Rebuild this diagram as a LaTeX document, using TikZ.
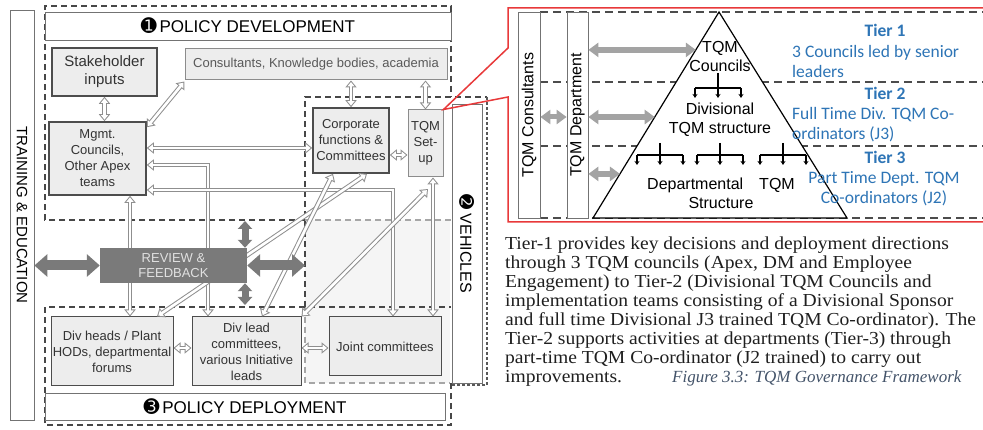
\documentclass[tikz,border=0pt]{standalone}
\usepackage{fontspec}
\setmainfont{Liberation Serif}
\newfontfamily\arialf{Liberation Sans}
\newfontfamily\calibf{Carlito}
\newfontfamily\dingf{DejaVu Sans}
\newfontfamily\parafont[FakeStretch=1.07]{Liberation Serif}
\usetikzlibrary{arrows.meta,calc}

\definecolor{boxfill}{HTML}{EDEDED}
\definecolor{boxline}{HTML}{4D4D4D}
\definecolor{hgray}{HTML}{8F8F8F}
\definecolor{rgray}{HTML}{7A7A7A}
\definecolor{tgray}{HTML}{A3A3A3}
\definecolor{tierblue}{HTML}{2E75B6}
\definecolor{capblue}{HTML}{44546A}
\definecolor{callred}{HTML}{E8393A}

\tikzset{
  govbox/.style={draw=boxline, line width=1.6pt, fill=boxfill, align=center, inner sep=1pt,
    font=\arialf\fontsize{13}{16}\selectfont, text=black!80},
  lgovbox/.style={govbox, draw=black!45, line width=1pt},
  framebox/.style={draw=black!55, line width=.8pt, fill=white, inner sep=0pt},
  dsh/.style={draw=black!72, line width=1.6pt, dash pattern=on 6pt off 4pt},
  ldsh/.style={draw=black!35, line width=1.2pt, dash pattern=on 6pt off 4pt},
  vdsh/.style={draw=black!65, line width=2.4pt, dash pattern=on 3pt off 2pt},
  tdsh/.style={draw=black!70, line width=1.3pt, dash pattern=on 8pt off 5pt},
  hout/.style={draw=hgray, line width=4.6pt,
    {Triangle[length=7pt,width=11pt]}-{Triangle[length=7pt,width=11pt]}},
  hin/.style={draw=white, line width=2.6pt,
    {Triangle[length=4.4pt,width=6.9pt]}-{Triangle[length=4.4pt,width=6.9pt]},
    shorten >=1.6pt, shorten <=1.6pt},
  fatarrow/.style={draw=rgray, line width=10pt,
    {Triangle[length=13pt,width=22pt]}-{Triangle[length=13pt,width=22pt]}},
  fatv/.style={draw=rgray, line width=7pt,
    {Triangle[length=8pt,width=14pt]}-{Triangle[length=8pt,width=14pt]}},
  tarrow/.style={draw=tgray, line width=6pt,
    {Triangle[length=10pt,width=14pt]}-{Triangle[length=10pt,width=14pt]}},
  org/.style={draw=black, line width=1.5pt},
  tri/.style={align=center, inner sep=0pt, font=\arialf\fontsize{16}{19}\selectfont},
  tier/.style={inner sep=0pt, text=tierblue, font=\calibf\fontsize{17.5}{20.5}\selectfont},
}
\newcommand\hollow[1]{\draw[hout] #1; \draw[hin] #1;}

\begin{document}
\begin{tikzpicture}[x=1pt, y=-1pt]
\useasboundingbox (0,0) rectangle (983,430);
\fill[white] (0,0) rectangle (983,430);

% vehicles area shading and frames
\fill[black!4] (305,220) rectangle (450,383);
\draw[dsh] (305,220) -- (45,220) -- (45,6) -- (451,6) -- (451,97);
\draw[ldsh] (305,220) -- (451,220);
\draw[dsh] (305,307) -- (305,97) -- (487,97);
\draw[vdsh] (487,97) -- (487,385) -- (450,385);
\draw[ldsh] (305,307) -- (305,383) -- (450,383);
\draw[dsh] (451,383) -- (451,425) -- (45,425) -- (45,307) -- (451,307);

\node[framebox, rotate=-90, minimum width=410pt, minimum height=24pt,
  font=\arialf\fontsize{15}{18}\selectfont] (train) at (22,215) {TRAINING \& EDUCATION};
\node[framebox, minimum width=406pt, minimum height=28pt,
  font=\arialf\fontsize{17}{20}\selectfont] (pdev) at (248,26) {{\dingf\fontsize{19}{20}\selectfont ➊}\,POLICY DEVELOPMENT};
\node[framebox, minimum width=400pt, minimum height=27pt,
  font=\arialf\fontsize{17}{20}\selectfont] (pdep) at (245,406.5) {{\dingf\fontsize{19}{20}\selectfont ➌}\,POLICY DEPLOYMENT};
\node[framebox, rotate=-90, minimum width=279pt, minimum height=30pt,
  font=\arialf\fontsize{16}{19}\selectfont] (veh) at (467,243.5) {{\dingf\fontsize{18}{20}\selectfont ➋}~VEHICLES};

% boxes
\node[govbox, minimum width=105pt, minimum height=48pt,
  font=\arialf\fontsize{15}{18}\selectfont] (stake) at (104.5,72) {Stakeholder\\inputs};
\node[lgovbox, minimum width=262pt, minimum height=31pt, text=black!65] (consult) at (316,64.5)
  {Consultants, Knowledge bodies, academia};
\node[govbox, minimum width=97pt, minimum height=73pt] (mgmt) at (97.5,158.5)
  {Mgmt.\\Councils,\\Other Apex\\teams};
\node[govbox, minimum width=76pt, minimum height=65pt] (corp) at (351,140.5)
  {Corporate\\functions \&\\Committees};
\node[lgovbox, minimum width=35pt, minimum height=67pt] (tqmset) at (425.5,143.5) {TQM\\Set-\\up};
\node[lgovbox, draw=boxline, minimum width=122pt, minimum height=69pt] (divheads) at (112,351.5)
  {Div heads / Plant\\HODs, departmental\\forums};
\node[lgovbox, draw=boxline, minimum width=109pt, minimum height=69pt] (divlead) at (246.5,351.5)
  {Div lead\\committees,\\various Initiative\\leads};
\node[lgovbox, draw=boxline, minimum width=112pt, minimum height=59pt] (joint) at (385,346.5)
  {Joint committees};
\coordinate (tqmfoot) at (428,189);

% hollow links
\hollow{(stake.south) -- (stake.south |- mgmt.north)}
\hollow{([yshift=-6pt]mgmt.north east) -- ([yshift=-1pt]consult.south west)}
\hollow{(corp.north) -- (corp.north |- consult.south)}
\hollow{(tqmset.north) -- (tqmset.north |- consult.south)}
\hollow{(mgmt.east |- 0,148) -- (corp.west |- 0,148)}
\hollow{(corp.east |- 0,155) -- (tqmset.west |- 0,155)}
\hollow{(mgmt.east |- 0,165) -| (divlead.north -| 208,0)}
\hollow{(mgmt.east |- 0,190) -| (joint.north -| 393,0)}
\hollow{(mgmt.south -| 130,0) -- (divheads.north -| 130,0)}
\hollow{(corp.south -| 367,0) -- (divheads.north -| 157,0)}
\hollow{(corp.south -| 333,0) -- (divlead.north -| 262,0)}
\hollow{(divlead.north east) -- (tqmfoot)}
\hollow{(tqmset.south -| 433,0) -- (joint.north -| 433,0)}
\hollow{(divheads.east |- 0,348) -- (divlead.west |- 0,348)}
\hollow{(divlead.east |- 0,348) -- (joint.west |- 0,348)}

% review and feedback
\node[fill=rgray, text=black!12, align=center, minimum width=147pt, minimum height=35pt,
  font=\arialf\fontsize{13}{15}\selectfont] (review) at (173.5,265.5) {REVIEW \&\\FEEDBACK};
\coordinate (revup) at (245,221);
\coordinate (revdown) at (245,305);
\draw[fatarrow] (train.north |- review.west) -- (review.west);
\draw[fatarrow] (review.east) -- (review.east -| 305,0);
\draw[fatv] (review.north -| revup) -- (revup);
\draw[fatv] (review.south -| revdown) -- (revdown);

% callout to the tier pyramid
\draw[callred, line width=1.5pt] (983,8) -- (508,8) -- (508,48) -- (tqmset.north east)
  -- (508,97) -- (508,222) -- (983,222);
\foreach \y in {12,82,146,218}
{
    \draw[tdsh] (540,\y) -- (983,\y);
}
\node[framebox, rotate=90, minimum width=206pt, minimum height=22pt,
  font=\arialf\fontsize{16}{18}\selectfont] (tqmcons) at (529,115) {TQM Consultants};
\node[framebox, rotate=90, minimum width=206pt, minimum height=21pt,
  font=\arialf\fontsize{16}{18}\selectfont] (tqmdept) at (577.5,115) {TQM Department};
\coordinate (apex) at (719,12);
\coordinate (bl) at (593,218);
\coordinate (br) at (847,218);
\draw[line width=1.2pt, fill=white] (apex) -- (bl) -- (br) -- cycle;
\coordinate (t1) at ($(apex)!0.184!(bl)$);
\coordinate (t2) at ($(apex)!0.51!(bl)$);
\coordinate (t3) at ($(apex)!0.786!(bl)$);
\draw[tarrow] (tqmdept.south |- t1) -- (t1);
\draw[tarrow] (tqmdept.south |- t2) -- (t2);
\draw[tarrow] (tqmdept.south |- t3) -- (t3);
\draw[tarrow, line width=5pt] (tqmcons.south |- 0,117) -- (tqmdept.north |- 0,117);

\node[tri] (councils) at (720,56) {TQM\\Councils};
\node[tri] (divstruct) at (720,120) {Divisional\\TQM structure};
\node[tri] (deptstruct) at (721,193) {Departmental\quad TQM\\Structure};
\foreach \cx/\ya/\yb in {718/73/88, 660/143/155, 720/143/155, 783/143/155}
{
    \draw[org] (\cx,\ya) -- (\cx,\yb);
    \draw[org] (\cx-23,\yb) -- (\cx+23,\yb);
    \foreach \dx in {-23,0,23}
        \draw[org, -{Stealth[length=4pt,width=5pt]}] (\cx+\dx,\yb) -- (\cx+\dx,\yb+10);
}

\node[tier, font=\calibf\bfseries\fontsize{17.5}{20}\selectfont] (tier1) at (885,30) {Tier 1};
\node[tier, anchor=west, align=left] (tier1txt) at (792,61.5) {3 Councils led by senior\\leaders};
\node[tier, font=\calibf\bfseries\fontsize{17.5}{20}\selectfont] (tier2) at (885,93) {Tier 2};
\node[tier, anchor=west, align=left] (tier2txt) at (792,124.5) {Full Time Div. TQM Co-\\ordinators (J3)};
\node[tier, font=\calibf\bfseries\fontsize{17.5}{20}\selectfont] (tier3) at (885,157) {Tier 3};
\node[tier, align=center] (tier3txt) at (884,188.5) {Part Time Dept. TQM\\Co-ordinators (J2)};

% description and caption
\node[anchor=north west, inner sep=0pt, align=left, text=black!88,
  font=\parafont\fontsize{18.3}{19}\selectfont] (para) at (505,237)
  {Tier-1 provides key decisions and deployment directions\\
   through 3 TQM councils (Apex, DM and Employee\\
   Engagement) to Tier-2 (Divisional TQM Councils and\\
   implementation teams consisting of a Divisional Sponsor\\
   and full time Divisional J3 trained TQM Co-ordinator). The\\
   Tier-2 supports activities at departments (Tier-3) through\\
   part-time TQM Co-ordinator (J2 trained) to carry out\\
   improvements.};
\node[anchor=base west, inner sep=0pt, text=capblue,
  font=\itshape\fontsize{17}{19}\selectfont] (caption) at (672,383) {Figure 3.3: TQM Governance Framework};
\end{tikzpicture}
\end{document}
